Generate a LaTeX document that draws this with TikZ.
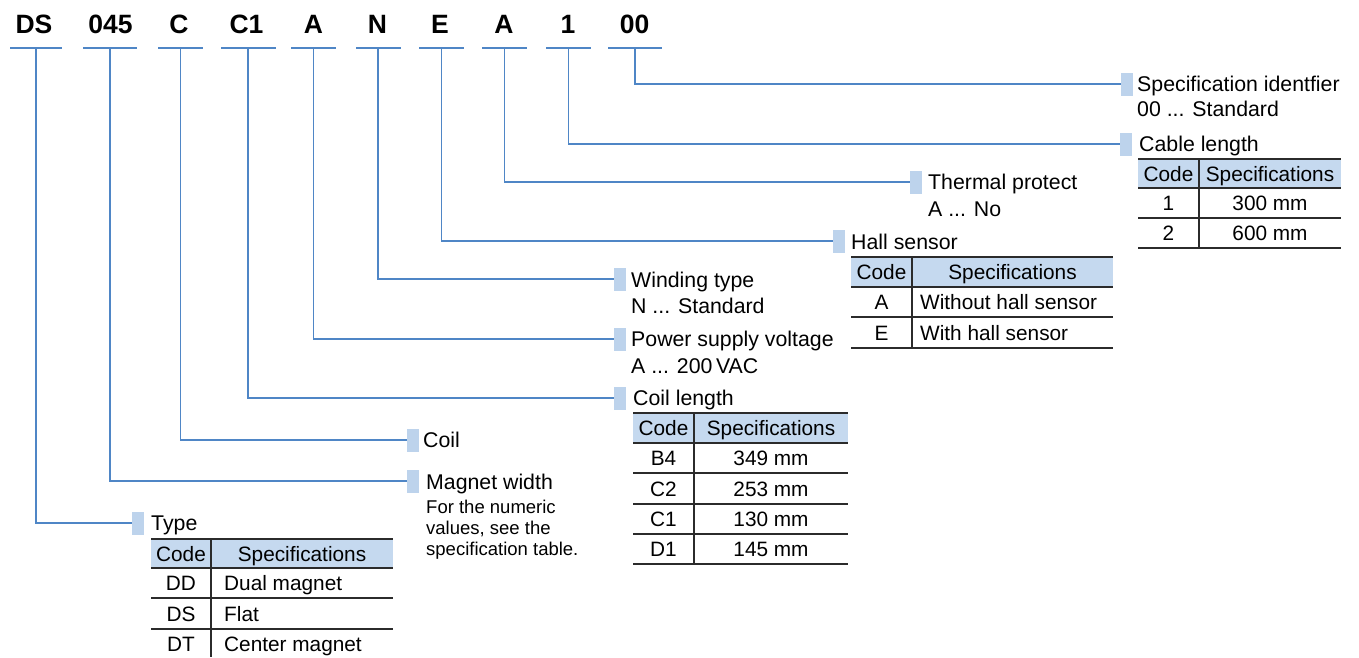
\documentclass[tikz,border=0pt]{standalone}
\usepackage{fontspec}
\setmainfont{Liberation Sans}
\definecolor{lineblue}{HTML}{4F86C6}
\definecolor{markblue}{HTML}{BDD3EC}
\definecolor{headblue}{HTML}{C5D9EF}
\definecolor{rulegray}{HTML}{2B2B2B}
\begin{document}
\begin{tikzpicture}[x=1pt,y=-1pt,
  code/.style={font=\fontsize{26.5}{26.5}\selectfont\bfseries, anchor=base, inner sep=0},
  ubar/.style={fill=lineblue, draw=none, minimum height=2.4pt, inner sep=0},
  conn/.style={lineblue, line width=1.1pt},
  marker/.style={fill=markblue, draw=none, minimum width=12pt, minimum height=23pt, inner sep=0, anchor=west},
  lbl/.style={font=\fontsize{21.3}{21.3}\selectfont, anchor=base west, inner sep=0},
  small/.style={font=\fontsize{18.5}{18.5}\selectfont, anchor=base west, inner sep=0},
  cell/.style={font=\fontsize{20.8}{20.8}\selectfont, anchor=base, inner sep=0},
  celll/.style={font=\fontsize{20.8}{20.8}\selectfont, anchor=base west, inner sep=0},
  trule/.style={rulegray, line width=1.3pt},
]
\useasboundingbox (0,0) rectangle (1359,657);

% ---- code letters ----
\node[code] (cDS) at (34,33) {DS};
\node[code] (c045) at (110.5,33) {045};
\node[code] (cC) at (179,33) {C};
\node[code] (cC1) at (246.5,33) {C1};
\node[code] (cA1) at (313.5,33) {A};
\node[code] (cN) at (377.5,33) {N};
\node[code] (cE) at (440,33) {E};
\node[code] (cA2) at (504,33) {A};
\node[code] (c1) at (568,33) {1};
\node[code] (c00) at (634.5,33) {00};

% ---- underline bars ----
\node[ubar, minimum width=52pt] (bDS) at (36,48) {};
\node[ubar, minimum width=54pt] (b045) at (110,48) {};
\node[ubar, minimum width=45pt] (bC) at (180.5,48) {};
\node[ubar, minimum width=55pt] (bC1) at (248,48) {};
\node[ubar, minimum width=45pt] (bA1) at (313.5,48) {};
\node[ubar, minimum width=45pt] (bN) at (378,48) {};
\node[ubar, minimum width=45pt] (bE) at (441.5,48) {};
\node[ubar, minimum width=45pt] (bA2) at (504.5,48) {};
\node[ubar, minimum width=45pt] (b1) at (568.5,48) {};
\node[ubar, minimum width=54pt] (b00) at (635,48) {};

% ---- markers ----
\node[marker] (m00) at (1121,84) {};
\node[marker] (m1) at (1120,144) {};
\node[marker] (mA2) at (910,182) {};
\node[marker] (mE) at (833,241) {};
\node[marker] (mN) at (614,279) {};
\node[marker] (mA1) at (614,339) {};
\node[marker] (mC1) at (614,398) {};
\node[marker] (mC) at (407,440) {};
\node[marker] (m045) at (407,481) {};
\node[marker] (mDS) at (132,523) {};

% ---- connectors ----
\draw[conn] (b00.center) |- (m00.west);
\draw[conn] (b1.center) |- (m1.west);
\draw[conn] (bA2.center) |- (mA2.west);
\draw[conn] (bE.center) |- (mE.west);
\draw[conn] (bN.center) |- (mN.west);
\draw[conn] (bA1.center) |- (mA1.west);
\draw[conn] (bC1.center) |- (mC1.west);
\draw[conn] (bC.center) |- (mC.west);
\draw[conn] (b045.center) |- (m045.west);
\draw[conn] (bDS.center) |- (mDS.west);

% ---- labels ----
\node[lbl] (l00) at (1137,91.5) {Specification identfier};
\node[lbl] (l00b) at (1137,116.5) {00 ... Standard};
\node[lbl] (l1) at (1139,151.5) {Cable length};
\node[lbl] (lA2) at (928,189.5) {Thermal protect};
\node[lbl] (lA2b) at (928,216) {A ... No};
\node[lbl] (lE) at (851,249) {Hall sensor};
\node[lbl] (lN) at (631,287.5) {Winding type};
\node[lbl] (lNb) at (631,313.5) {N ... Standard};
\node[lbl] (lA1) at (631,346.5) {Power supply voltage};
\node[lbl] (lA1b) at (631,373.5) {A ... 200\,VAC};
\node[lbl] (lC1) at (633,405.5) {Coil length};
\node[lbl] (lC) at (423,447.5) {Coil};
\node[lbl] (l045) at (426,489) {Magnet width};
\node[small] (s1) at (426,513) {For the numeric};
\node[small] (s2) at (426,534) {values, see the};
\node[small] (s3) at (426,555) {specification table.};
\node[lbl] (lDS) at (151,530.5) {Type};

% ---- Type table ----
\fill[headblue] (151,539) rectangle (393,568);
\draw[trule] (151,539) -- (393,539);
\draw[trule] (151,568) -- (393,568);
\draw[trule] (151,598) -- (393,598);
\draw[trule] (151,629) -- (393,629);
\draw[trule] (211,539) -- (211,657);
\node[cell] (tDSh1) at (181,561) {Code};
\node[cell] (tDSh2) at (302,561) {Specifications};
\node[cell] (tDS1a) at (181,590.5) {DD};
\node[celll] (tDS1b) at (224,590.5) {Dual magnet};
\node[cell] (tDS2a) at (181,621) {DS};
\node[celll] (tDS2b) at (224,621) {Flat};
\node[cell] (tDS3a) at (181,651.5) {DT};
\node[celll] (tDS3b) at (224,651.5) {Center magnet};

% ---- Coil length table ----
\fill[headblue] (633,413) rectangle (848,443);
\foreach \yy in {413,443,473,504,534,564} \draw[trule] (633,\yy) -- (848,\yy);
\draw[trule] (694,413) -- (694,564);
\node[cell] (tC1h1) at (663.5,435.5) {Code};
\node[cell] (tC1h2) at (771,435.5) {Specifications};
\node[cell] (tC1a1) at (663.5,465.5) {B4};
\node[cell] (tC1b1) at (771,465.5) {349 mm};
\node[cell] (tC1a2) at (663.5,496) {C2};
\node[cell] (tC1b2) at (771,496) {253 mm};
\node[cell] (tC1a3) at (663.5,526.5) {C1};
\node[cell] (tC1b3) at (771,526.5) {130 mm};
\node[cell] (tC1a4) at (663.5,556.5) {D1};
\node[cell] (tC1b4) at (771,556.5) {145 mm};

% ---- Hall sensor table ----
\fill[headblue] (851,257) rectangle (1113,287);
\foreach \yy in {257,287,317,348} \draw[trule] (851,\yy) -- (1113,\yy);
\draw[trule] (912,257) -- (912,348);
\node[cell] (tEh1) at (881.5,279.5) {Code};
\node[cell] (tEh2) at (1012.5,279.5) {Specifications};
\node[cell] (tEa1) at (881.5,309.5) {A};
\node[celll] (tEb1) at (920,309.5) {Without hall sensor};
\node[cell] (tEa2) at (881.5,340) {E};
\node[celll] (tEb2) at (920,340) {With hall sensor};

% ---- Cable length table ----
\fill[headblue] (1138,159) rectangle (1341,188);
\foreach \yy in {159,188,218,248} \draw[trule] (1138,\yy) -- (1341,\yy);
\draw[trule] (1199,159) -- (1199,248);
\node[cell] (t1h1) at (1168.5,181) {Code};
\node[cell] (t1h2) at (1270,181) {Specifications};
\node[cell] (t1a1) at (1168.5,210.5) {1};
\node[cell] (t1b1) at (1270,210.5) {300 mm};
\node[cell] (t1a2) at (1168.5,240.5) {2};
\node[cell] (t1b2) at (1270,240.5) {600 mm};
\end{tikzpicture}
\end{document}
